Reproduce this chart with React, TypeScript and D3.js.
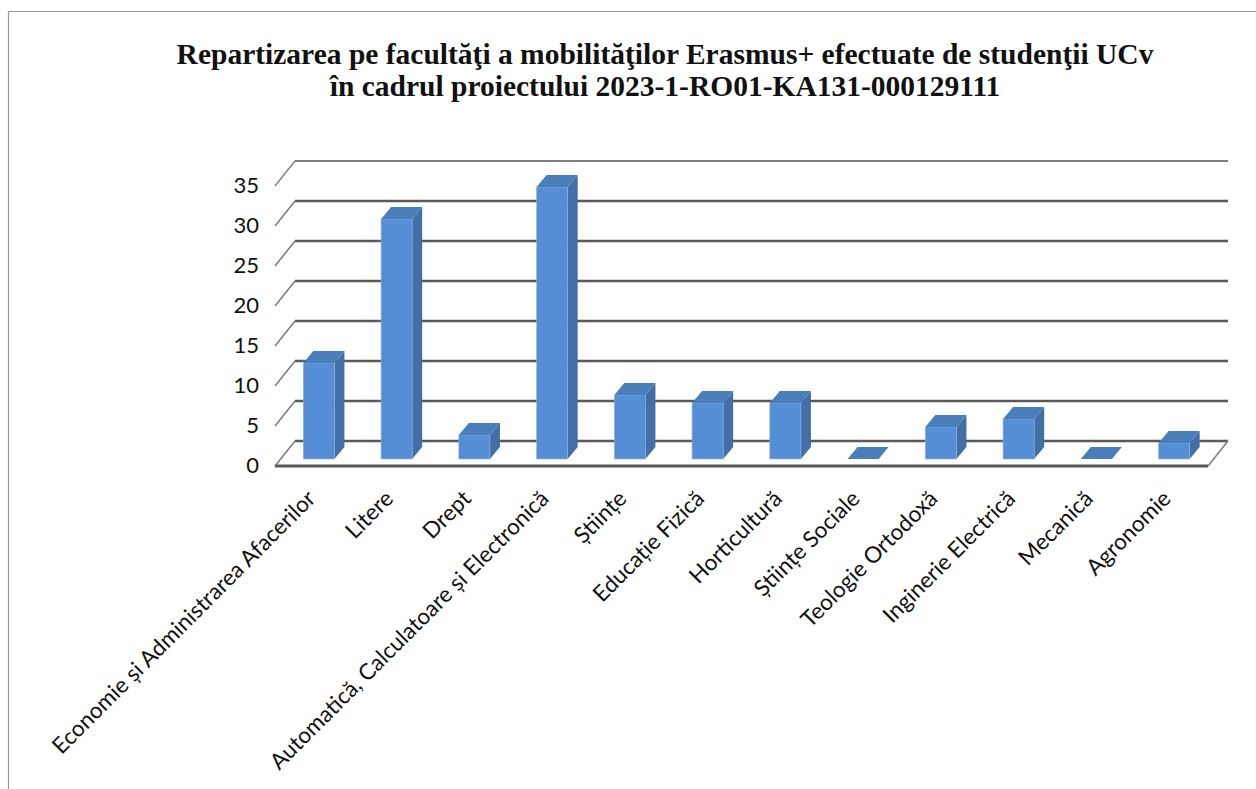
import React from 'react';
import * as d3 from 'd3';

const categories = [
  'Economie și Administrarea Afacerilor',
  'Litere',
  'Drept',
  'Automatică, Calculatoare și Electronică',
  'Științe',
  'Educație Fizică',
  'Horticultură',
  'Științe Sociale',
  'Teologie Ortodoxă',
  'Inginerie Electrică',
  'Mecanică',
  'Agronomie',
];
const mobilities = [12, 30, 3, 34, 8, 7, 7, 0, 4, 5, 0, 2];
const yTicks = [0, 5, 10, 15, 20, 25, 30, 35];
const titleLines = [
  'Repartizarea pe facultăţi a mobilităţilor Erasmus+ efectuate de studenţii UCv',
  'în cadrul proiectului 2023-1-RO01-KA131-000129111',
];

const width = 1256;
const height = 789;

// floor of the 3d box
const frontLeft = 275;
const frontRight = 1208;
const frontY = 466;
const depthX = 20;
const depthY = -25;

// bars sit a little into the box
const barBase = 459;
const barDepthX = 10;
const barDepthY = -12;

const x = d3.scaleBand<string>().domain(categories).range([frontLeft + 5, frontRight + 5]).paddingInner(0.6).paddingOuter(0.3);
const y = d3.scaleLinear().domain([0, 35]).range([0, -280]);
const labelX = d3.scaleBand<string>().domain(categories).range([frontLeft, frontRight]);

const shade = d3.scaleOrdinal<string>().domain(['front', 'top', 'side']).range(['#558ed5', '#4a7ebb', '#426fa6']);

const poly = d3.line<[number, number]>().curve(d3.curveLinearClosed);

export default function App() {
  return (
    <svg width={width} height={height} style={{ position: 'absolute', left: 0, top: 0, background: '#fff' }}>
      <path d={`M8.5,${height} V11.5 H${width}`} fill="none" stroke="#9a9a9a" strokeWidth={1.2} />
      <text textAnchor="middle" fontFamily="'Liberation Serif', serif" fontWeight="bold" fontSize={29.5} fill="#111">
        {titleLines.map((line, i) => (
          <tspan key={i} x={665} y={64 + i * 32}>{line}</tspan>
        ))}
      </text>

      {yTicks.map(t => {
        const gy = frontY + y(t);
        return (
          <g key={t}>
            <line x1={frontLeft} x2={frontLeft + depthX} y1={gy} y2={gy + depthY} stroke="#7f7f7f" strokeWidth={t === 35 ? 1.4 : 1.6} />
            {t > 0 && (
              <line x1={frontLeft + depthX} x2={frontRight + depthX} y1={gy + depthY} y2={gy + depthY}
                stroke={t === 35 ? '#555' : '#5a5a5a'} strokeWidth={t === 35 ? 1.3 : 2.6} />
            )}
            <text x={259} y={gy + 7} textAnchor="end" fontFamily="Lato, 'Open Sans', sans-serif" fontSize={22} fill="#111">{t}</text>
          </g>
        );
      })}
      {/* floor */}
      <line x1={frontLeft + depthX} x2={frontRight + depthX} y1={frontY + depthY} y2={frontY + depthY} stroke="#5a5a5a" strokeWidth={2.6} />
      <line x1={frontRight} x2={frontRight + depthX} y1={frontY} y2={frontY + depthY} stroke="#7f7f7f" strokeWidth={1.6} />
      <line x1={frontLeft} x2={frontRight} y1={frontY} y2={frontY} stroke="#595959" strokeWidth={3} />

      {categories.map((c, i) => {
        const x0 = x(c)!;
        const x1 = x0 + x.bandwidth();
        const top = barBase + y(mobilities[i]);
        return (
          <g key={c}>
            <path d={poly([[x1, barBase], [x1 + barDepthX, barBase + barDepthY], [x1 + barDepthX, top + barDepthY], [x1, top]])!} fill={shade('side')} />
            <rect x={x0} y={top} width={x.bandwidth()} height={barBase - top} fill={shade('front')} stroke="#8fb4e3" strokeWidth={0.6} />
            <path d={poly([[x0, top], [x1, top], [x1 + barDepthX, top + barDepthY], [x0 + barDepthX, top + barDepthY]])!} fill={shade('top')} />
          </g>
        );
      })}

      {categories.map(c => {
        const lx = labelX(c)! + labelX.bandwidth() / 2 + 3;
        return (
          <text key={c} transform={`translate(${lx},500) rotate(-45)`} textAnchor="end"
            fontFamily="Lato, 'Open Sans', sans-serif" fontSize={22.5} fill="#111">{c}</text>
        );
      })}
    </svg>
  );
}
